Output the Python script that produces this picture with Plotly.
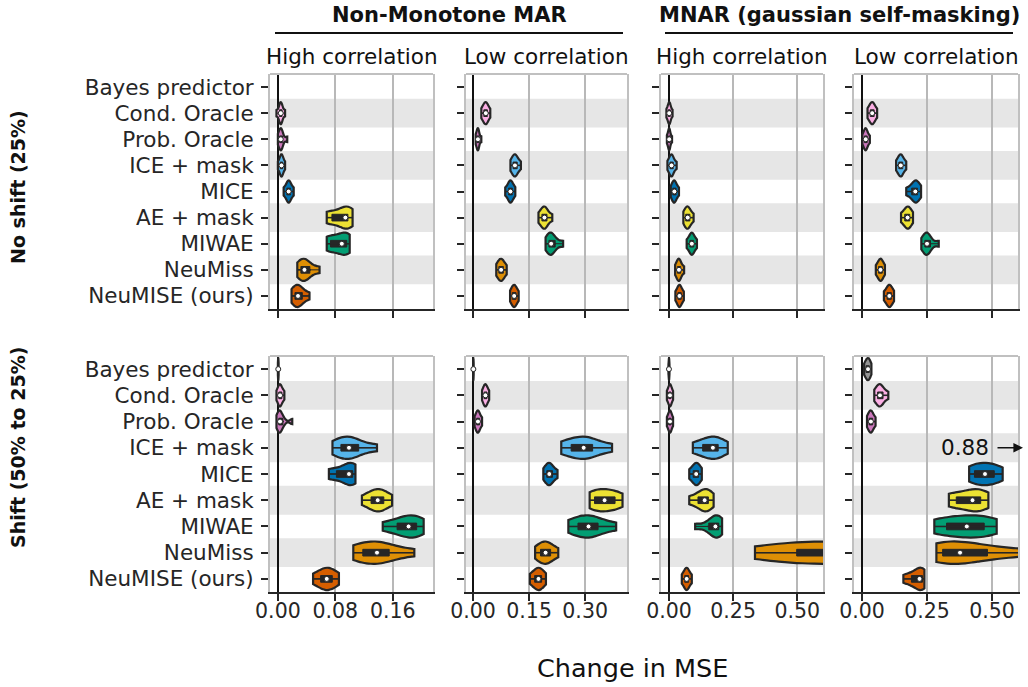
import numpy as np
import plotly.graph_objects as go

W, H = 1028, 687

methods = ["Bayes predictor", "Cond. Oracle", "Prob. Oracle", "ICE + mask", "MICE",
           "AE + mask", "MIWAE", "NeuMiss", "NeuMISE (ours)"]
colors = ["#949494", "#FBAFE4", "#CC78BC", "#56B4E9", "#0173B2",
          "#ECE133", "#029E73", "#DE8F05", "#D55E00"]

group_titles = ["Non-Monotone MAR", "MNAR (gaussian self-masking)"]
col_titles = ["High correlation", "Low correlation", "High correlation", "Low correlation"]
row_titles = ["No shift (25%)", "Shift (50% to 25%)"]
x_title = "Change in MSE"

col_ranges = [[-0.011, 0.216], [-0.019, 0.412], [-0.031, 0.60], [-0.031, 0.60]]
col_tickvals = [[0.0, 0.08, 0.16], [0.0, 0.15, 0.30], [0.0, 0.25, 0.50], [0.0, 0.25, 0.50]]
col_ticktext = [["0.00", "0.08", "0.16"], ["0.00", "0.15", "0.30"],
                ["0.00", "0.25", "0.50"], ["0.00", "0.25", "0.50"]]

# ---- values (change in MSE), one list per method, per panel ----
noshift_mar_high = [
    [],
    [-0.002, 0.002, 0.003, 0.004, 0.005, 0.006, 0.010],
    [0.000, 0.002, 0.004, 0.004, 0.005, 0.007, 0.013],
    [0.000, 0.003, 0.004, 0.005, 0.006, 0.007, 0.010],
    [0.008, 0.012, 0.014, 0.015, 0.016, 0.018, 0.022],
    [0.068, 0.072, 0.085, 0.094, 0.096, 0.098, 0.104],
    [0.068, 0.071, 0.080, 0.089, 0.093, 0.097, 0.100],
    [0.027, 0.031, 0.035, 0.037, 0.040, 0.046, 0.058],
    [0.019, 0.023, 0.026, 0.028, 0.031, 0.035, 0.044],
]
noshift_mar_low = [
    [],
    [0.022, 0.028, 0.031, 0.034, 0.036, 0.039, 0.046],
    [0.007, 0.010, 0.012, 0.013, 0.014, 0.016, 0.022],
    [0.100, 0.106, 0.110, 0.112, 0.115, 0.119, 0.128],
    [0.086, 0.094, 0.098, 0.100, 0.102, 0.106, 0.113],
    [0.175, 0.183, 0.188, 0.191, 0.194, 0.199, 0.212],
    [0.194, 0.202, 0.206, 0.209, 0.213, 0.222, 0.241],
    [0.062, 0.068, 0.072, 0.075, 0.078, 0.082, 0.090],
    [0.099, 0.104, 0.108, 0.110, 0.112, 0.116, 0.122],
]
noshift_mnar_high = [
    [],
    [-0.010, -0.004, 0.000, 0.001, 0.003, 0.006, 0.014],
    [-0.008, -0.003, 0.000, 0.001, 0.002, 0.005, 0.012],
    [-0.006, 0.003, 0.007, 0.010, 0.013, 0.018, 0.030],
    [0.007, 0.014, 0.018, 0.021, 0.024, 0.029, 0.039],
    [0.056, 0.064, 0.069, 0.073, 0.077, 0.083, 0.096],
    [0.069, 0.080, 0.086, 0.089, 0.092, 0.098, 0.109],
    [0.024, 0.032, 0.036, 0.039, 0.042, 0.047, 0.059],
    [0.025, 0.034, 0.038, 0.041, 0.044, 0.049, 0.058],
]
noshift_mnar_low = [
    [],
    [0.021, 0.030, 0.036, 0.039, 0.042, 0.048, 0.058],
    [0.001, 0.008, 0.012, 0.014, 0.016, 0.021, 0.030],
    [0.131, 0.140, 0.146, 0.149, 0.152, 0.158, 0.170],
    [0.170, 0.188, 0.200, 0.205, 0.209, 0.215, 0.227],
    [0.150, 0.162, 0.171, 0.175, 0.179, 0.185, 0.196],
    [0.228, 0.240, 0.246, 0.250, 0.255, 0.266, 0.295],
    [0.053, 0.062, 0.068, 0.071, 0.074, 0.079, 0.088],
    [0.084, 0.095, 0.101, 0.105, 0.108, 0.114, 0.123],
]
shift_mar_high = [
    [0.000, 0.0002, 0.0004, 0.0005, 0.0006, 0.0008, 0.001],
    [-0.002, 0.001, 0.002, 0.003, 0.004, 0.006, 0.009],
    [-0.002, 0.001, 0.002, 0.003, 0.004, 0.008, 0.020],
    [0.076, 0.086, 0.093, 0.099, 0.105, 0.115, 0.138],
    [0.071, 0.078, 0.092, 0.099, 0.102, 0.105, 0.108],
    [0.117, 0.128, 0.135, 0.139, 0.143, 0.149, 0.159],
    [0.146, 0.163, 0.175, 0.182, 0.188, 0.195, 0.203],
    [0.105, 0.115, 0.128, 0.138, 0.146, 0.158, 0.190],
    [0.049, 0.058, 0.064, 0.068, 0.072, 0.077, 0.085],
]
shift_mar_low = [
    [0.000, 0.0003, 0.0005, 0.0007, 0.0009, 0.0012, 0.0015],
    [0.024, 0.029, 0.031, 0.033, 0.035, 0.038, 0.043],
    [0.004, 0.009, 0.011, 0.013, 0.015, 0.018, 0.024],
    [0.236, 0.255, 0.285, 0.296, 0.305, 0.325, 0.372],
    [0.188, 0.196, 0.201, 0.204, 0.208, 0.214, 0.226],
    [0.312, 0.320, 0.340, 0.352, 0.365, 0.385, 0.400],
    [0.255, 0.275, 0.298, 0.309, 0.318, 0.340, 0.383],
    [0.166, 0.178, 0.188, 0.194, 0.200, 0.210, 0.228],
    [0.152, 0.163, 0.170, 0.175, 0.179, 0.185, 0.195],
]
shift_mnar_high = [
    [-0.002, -0.001, 0.000, 0.000, 0.0005, 0.001, 0.002],
    [-0.008, -0.002, 0.002, 0.004, 0.006, 0.009, 0.016],
    [-0.008, -0.002, 0.002, 0.004, 0.006, 0.009, 0.016],
    [0.093, 0.125, 0.150, 0.171, 0.182, 0.195, 0.229],
    [0.079, 0.092, 0.101, 0.106, 0.111, 0.117, 0.128],
    [0.079, 0.108, 0.128, 0.139, 0.146, 0.156, 0.174],
    [0.102, 0.150, 0.170, 0.181, 0.188, 0.196, 0.207],
    [0.335, 0.430, 0.520, 0.560, 0.640, 0.720, 0.800, 0.880, 0.980],
    [0.050, 0.060, 0.066, 0.069, 0.072, 0.078, 0.089],
]
shift_mnar_low = [
    [0.008, 0.014, 0.019, 0.023, 0.025, 0.029, 0.036],
    [0.047, 0.058, 0.065, 0.069, 0.074, 0.083, 0.101],
    [0.019, 0.026, 0.031, 0.034, 0.037, 0.042, 0.052],
    [0.780, 0.820, 0.860, 0.880, 0.900, 0.930, 0.980],
    [0.412, 0.425, 0.455, 0.473, 0.490, 0.515, 0.541],
    [0.334, 0.350, 0.400, 0.425, 0.440, 0.462, 0.486],
    [0.278, 0.310, 0.370, 0.403, 0.440, 0.480, 0.518],
    [0.286, 0.300, 0.340, 0.377, 0.430, 0.500, 0.620],
    [0.159, 0.185, 0.205, 0.221, 0.228, 0.234, 0.240],
]

panels = [[noshift_mar_high, noshift_mar_low, noshift_mnar_high, noshift_mnar_low],
          [shift_mar_high, shift_mar_low, shift_mnar_high, shift_mnar_low]]

# ---- layout geometry (pixels) ----
col_px = [(270, 433), (466, 627), (661, 823), (854, 1018)]
row_px = [(74, 309), (356, 592)]

FONT = "DejaVu Sans"
DARK = "#262626"
GRID = "#b8b8b8"
BAND = "#e6e6e6"

fig = go.Figure()
layout = dict(
    width=W, height=H, margin=dict(l=0, r=0, t=0, b=0, autoexpand=False),
    paper_bgcolor="white", plot_bgcolor="white", showlegend=False,
    violinmode="overlay", font=dict(family=FONT, size=20, color=DARK),
)
shapes = []
annotations = []

for r in range(2):
    for c in range(4):
        k = r * 4 + c + 1
        xa = "x" if k == 1 else f"x{k}"
        ya = "y" if k == 1 else f"y{k}"
        x0p, x1p = col_px[c]
        y0p, y1p = row_px[r]
        layout[f"xaxis{'' if k == 1 else k}"] = dict(
            domain=[x0p / W, x1p / W], anchor=ya, range=col_ranges[c],
            tickvals=col_tickvals[c], ticktext=col_ticktext[c],
            showticklabels=(r == 1), ticks="outside", ticklen=7, tickwidth=2,
            tickcolor=DARK, showgrid=True, gridcolor=GRID, gridwidth=2,
            zeroline=True, zerolinecolor="#111111", zerolinewidth=2,
            showline=True, linecolor=DARK, linewidth=2, mirror=False,
            tickfont=dict(family=FONT, size=20.5, color=DARK), fixedrange=True,
            automargin=False, ticklabelstandoff=-8,
        )
        layout[f"yaxis{'' if k == 1 else k}"] = dict(
            domain=[1 - y1p / H, 1 - y0p / H], anchor=xa, type="category",
            categoryarray=methods, categoryorder="array", range=[8.5, -0.5],
            showticklabels=(c == 0), ticks="outside", ticklen=7, tickwidth=2,
            tickcolor=DARK, showgrid=False, zeroline=False,
            showline=True, linecolor="#c0c0c0", linewidth=2, mirror=True,
            tickfont=dict(family=FONT, size=21.5, color=DARK), ticklabelstandoff=3,
            fixedrange=True, automargin=False,
        )
        # alternating bands
        for i in range(1, len(methods), 2):
            shapes.append(dict(type="rect", xref=f"{xa} domain", yref=ya,
                               x0=0, x1=1, y0=i - 0.55, y1=i + 0.55,
                               fillcolor=BAND, line=dict(width=0), layer="below"))
        # top border
        shapes.append(dict(type="line", xref=f"{xa} domain", yref=f"{ya} domain",
                           x0=0, x1=1, y0=1, y1=1,
                           line=dict(color="#c0c0c0", width=2), layer="above"))

        data = panels[r][c]
        for m, vals in enumerate(data):
            if len(vals) == 0:
                continue
            v = np.array(vals, dtype=float)
            fig.add_trace(go.Violin(
                x=v, y=[methods[m]] * len(v), orientation="h", side="both",
                width=0.85, spanmode="hard", scalemode="width",
                fillcolor=colors[m], opacity=1,
                line=dict(color=DARK, width=2.2), points=False,
                box=dict(visible=True, width=0.3, fillcolor=DARK,
                         line=dict(color=DARK, width=1)),
                meanline=dict(visible=False), hoverinfo="skip",
                xaxis=xa, yaxis=ya,
            ))
            # whiskers (1.5 IQR rule)
            q1, q3 = np.percentile(v, [25, 75])
            iqr = q3 - q1
            lo = float(v[v >= q1 - 1.5 * iqr].min())
            hi = float(v[v <= q3 + 1.5 * iqr].max())
            fig.add_trace(go.Scatter(
                x=[lo, hi], y=[methods[m], methods[m]], mode="lines",
                line=dict(color=DARK, width=1.5), xaxis=xa, yaxis=ya, hoverinfo="skip",
            ))
            fig.add_trace(go.Scatter(
                x=[float(np.median(v))], y=[methods[m]], mode="markers",
                marker=dict(color="white", size=5, line=dict(color=DARK, width=1)),
                xaxis=xa, yaxis=ya, hoverinfo="skip",
            ))

# off-chart annotation (ICE + mask, shift, MNAR low correlation)
off_val = float(np.median(shift_mnar_low[3]))
annotations.append(dict(xref="paper", yref="y8", x=991 / W, y=methods[3],
                        text=f"{off_val:.2f}", showarrow=False, xanchor="right",
                        yanchor="middle", font=dict(family=FONT, size=21.5, color="#111")))
annotations.append(dict(xref="paper", yref="y8", x=1023 / W, y=methods[3],
                        ax=-27, ay=0, axref="pixel", ayref="pixel",
                        text="", showarrow=True, arrowhead=2, arrowsize=1.2,
                        arrowwidth=1.6, arrowcolor="#111"))

# headers
centers = [(col_px[c][0] + col_px[c][1]) / 2 for c in range(4)]
for c in range(4):
    annotations.append(dict(xref="paper", yref="paper", x=centers[c] / W, y=1 - 57 / H,
                            text=col_titles[c], showarrow=False, xanchor="center",
                            yanchor="middle", font=dict(family=FONT, size=21.5, color="#111")))
group_lines = [(275, 623), (665, 1013)]
for g in range(2):
    a, b = group_lines[g]
    annotations.append(dict(xref="paper", yref="paper", x=(a + b) / 2 / W, y=1 - 15 / H,
                            text=f"<b>{group_titles[g]}</b>", showarrow=False,
                            xanchor="center", yanchor="middle",
                            font=dict(family=FONT, size=21, color="#111")))
    shapes.append(dict(type="line", xref="paper", yref="paper", x0=a / W, x1=b / W,
                       y0=1 - 33 / H, y1=1 - 33 / H, line=dict(color="#111", width=2)))
row_label_y = [187, 448]
for r in range(2):
    annotations.append(dict(xref="paper", yref="paper", x=18 / W, y=1 - row_label_y[r] / H,
                            text=f"<b>{row_titles[r]}</b>", showarrow=False, textangle=-90,
                            xanchor="center", yanchor="middle",
                            font=dict(family=FONT, size=19, color="#111")))
annotations.append(dict(xref="paper", yref="paper", x=632 / W, y=1 - 668 / H,
                        text=x_title, showarrow=False, xanchor="center", yanchor="middle",
                        font=dict(family=FONT, size=25.5, color="#111")))

layout["shapes"] = shapes
layout["annotations"] = annotations
fig.update_layout(**layout)
fig.write_html("out.html")
